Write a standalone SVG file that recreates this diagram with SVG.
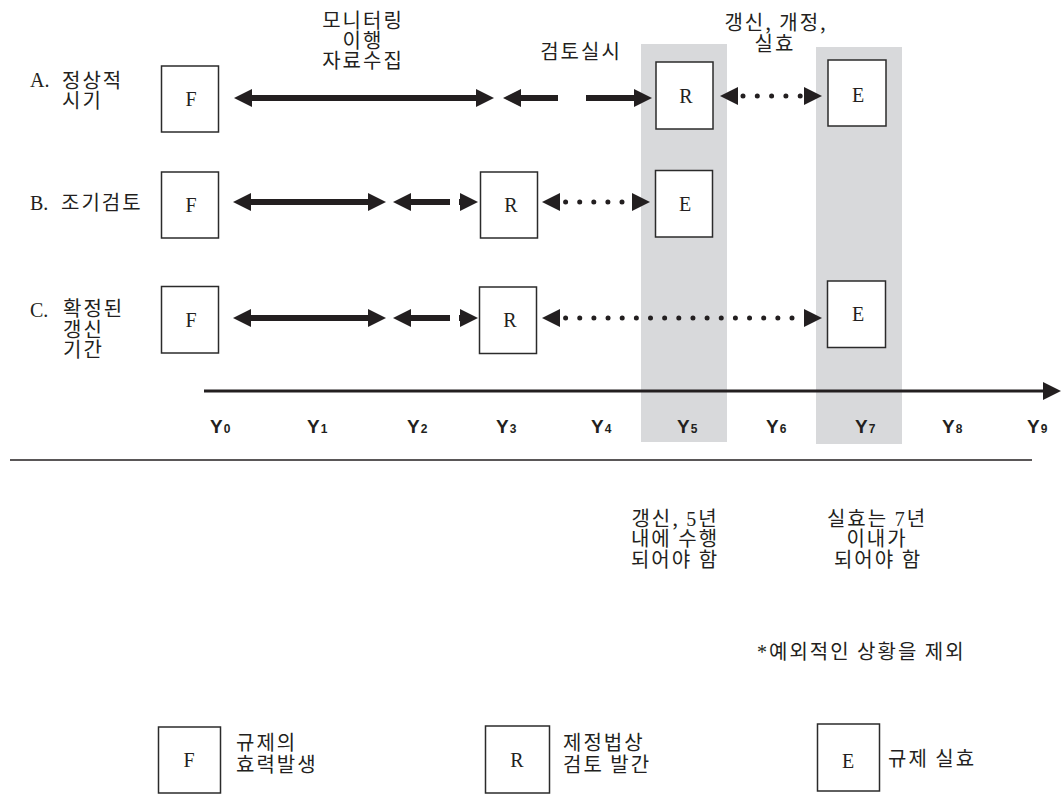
<svg xmlns="http://www.w3.org/2000/svg" width="1061" height="794" viewBox="0 0 1061 794">
<style>
.band{fill:#d8d9db}
.box{fill:#fff;stroke:#2b2b2b;stroke-width:1.5}
.let{font-family:'Liberation Serif',serif;font-size:20px;fill:#231f20;text-anchor:middle}
.kr{font-family:'Noto Sans CJK KR','Liberation Serif',sans-serif;font-size:20px;letter-spacing:2px;fill:#231f20}
.ser{font-family:'Liberation Serif',serif}
.mid{text-anchor:middle}
.shaft{stroke:#231f20;stroke-width:6;fill:none}
.dots{stroke:#231f20;stroke-width:5;stroke-linecap:round;fill:none}
.axis{stroke:#231f20;stroke-width:3;fill:none}
.rule{stroke:#231f20;stroke-width:1.5}
.yl{font-family:'Liberation Sans',sans-serif;font-weight:bold;font-size:19px;fill:#231f20}
.sub{font-size:12px}
</style>
<defs>
<marker id="ah" markerUnits="userSpaceOnUse" markerWidth="18" markerHeight="18" refX="0" refY="9" orient="auto-start-reverse" viewBox="0 0 18 18"><path d="M0,0L18,9L0,18z" fill="#231f20"/></marker>
</defs>
<rect width="1061" height="794" fill="#fff"/>
<g id="bands">
<rect class="band" x="641" y="44" width="86" height="398"/>
<rect class="band" x="816" y="47" width="86" height="397"/>
</g>
<g id="row-labels">
<text class="let" x="30" y="87" style="text-anchor:start">A.</text>
<text class="kr" x="62" y="88">정상적<tspan x="62" dy="19.5">시기</tspan></text>
<text class="let" x="30" y="210" style="text-anchor:start">B.</text>
<text class="kr" x="61" y="210">조기검토</text>
<text class="let" x="30" y="317" style="text-anchor:start">C.</text>
<text class="kr" x="63" y="316">확정된<tspan x="63" dy="20.5">갱신</tspan><tspan x="63" dy="20.5">기간</tspan></text>
</g>
<g id="top-labels">
<text class="kr mid" x="363" y="28">모니터링<tspan x="363" dy="20">이행</tspan><tspan x="363" dy="20">자료수집</tspan></text>
<text class="kr mid" x="581" y="59">검토실시</text>
<text class="kr mid" x="776" y="30">갱신, 개정,<tspan x="775" dy="21">실효</tspan></text>
</g>
<g id="nodeA-F"><rect class="box" x="161.5" y="66" width="57" height="66"/><text class="let" x="191" y="106">F</text></g>
<g id="nodeA-R"><rect class="box" x="656" y="62" width="57" height="67"/><text class="let" x="686" y="103">R</text></g>
<g id="nodeA-E"><rect class="box" x="828" y="60" width="58" height="66"/><text class="let" x="858" y="102">E</text></g>
<g id="nodeB-F"><rect class="box" x="161.5" y="172" width="57" height="66"/><text class="let" x="191" y="212">F</text></g>
<g id="nodeB-R"><rect class="box" x="480.5" y="172" width="57" height="66"/><text class="let" x="511" y="212">R</text></g>
<g id="nodeB-E"><rect class="box" x="655.5" y="170.5" width="57" height="66.5"/><text class="let" x="685" y="211">E</text></g>
<g id="nodeC-F"><rect class="box" x="161.5" y="286.5" width="57" height="66.5"/><text class="let" x="191" y="327">F</text></g>
<g id="nodeC-R"><rect class="box" x="479.5" y="287" width="57" height="66.5"/><text class="let" x="510" y="327">R</text></g>
<g id="nodeC-E"><rect class="box" x="827.5" y="281" width="58" height="66.5"/><text class="let" x="858" y="321">E</text></g>
<g id="connectors">
<line class="shaft" x1="252" y1="98" x2="476" y2="98" marker-start="url(#ah)" marker-end="url(#ah)"/>
<line class="shaft" x1="521" y1="98" x2="558" y2="98" marker-start="url(#ah)"/>
<line class="shaft" x1="586" y1="98" x2="634" y2="98" marker-end="url(#ah)"/>
<line class="dots" x1="738" y1="96" x2="804" y2="96" stroke-dasharray="0 14.3" stroke-dashoffset="9.3" marker-start="url(#ah)" marker-end="url(#ah)"/>
<line class="shaft" x1="251" y1="202" x2="368" y2="202" marker-start="url(#ah)" marker-end="url(#ah)"/>
<line class="shaft" x1="411" y1="202" x2="450" y2="202" marker-start="url(#ah)"/>
<line class="shaft" x1="459" y1="202" x2="460" y2="202" marker-end="url(#ah)"/>
<line class="dots" x1="560" y1="202" x2="632" y2="202" stroke-dasharray="0 14.1" stroke-dashoffset="8.5" marker-start="url(#ah)" marker-end="url(#ah)"/>
<line class="shaft" x1="251" y1="318" x2="368" y2="318" marker-start="url(#ah)" marker-end="url(#ah)"/>
<line class="shaft" x1="411" y1="318" x2="450" y2="318" marker-start="url(#ah)"/>
<line class="shaft" x1="459" y1="318" x2="460" y2="318" marker-end="url(#ah)"/>
<line class="dots" x1="560" y1="318" x2="804" y2="318" stroke-dasharray="0 14.15" stroke-dashoffset="8.55" marker-start="url(#ah)" marker-end="url(#ah)"/>
<line class="axis" x1="204" y1="391" x2="1043" y2="391" marker-end="url(#ah)"/>
<line class="rule" x1="10" y1="460" x2="1032" y2="460"/>
</g>
<g id="axis-labels">
<text class="yl" x="210" y="433">Y<tspan class="sub" dx="1">0</tspan></text>
<text class="yl" x="307" y="433">Y<tspan class="sub" dx="1">1</tspan></text>
<text class="yl" x="407" y="433">Y<tspan class="sub" dx="1">2</tspan></text>
<text class="yl" x="496" y="433">Y<tspan class="sub" dx="1">3</tspan></text>
<text class="yl" x="591" y="433">Y<tspan class="sub" dx="1">4</tspan></text>
<text class="yl" x="677" y="433">Y<tspan class="sub" dx="1">5</tspan></text>
<text class="yl" x="766" y="433">Y<tspan class="sub" dx="1">6</tspan></text>
<text class="yl" x="855" y="433">Y<tspan class="sub" dx="1">7</tspan></text>
<text class="yl" x="942" y="433">Y<tspan class="sub" dx="1">8</tspan></text>
<text class="yl" x="1027" y="433">Y<tspan class="sub" dx="1">9</tspan></text>
</g>
<g id="notes">
<text class="kr mid" x="675" y="526">갱신, <tspan class="ser">5</tspan>년<tspan x="675" dy="20">내에 수행</tspan><tspan x="675" dy="20.5">되어야 함</tspan></text>
<text class="kr mid" x="877" y="526">실효는 <tspan class="ser">7</tspan>년<tspan x="877" dy="20">이내가</tspan><tspan x="878" dy="20.5">되어야 함</tspan></text>
<text class="kr" x="757" y="659"><tspan class="ser">*</tspan>예외적인 상황을 제외</text>
</g>
<g id="legend-F"><rect class="box" x="158.5" y="727" width="62" height="66"/><text class="let" x="189" y="767">F</text><text class="kr" x="236" y="750">규제의<tspan x="236" dy="22">효력발생</tspan></text></g>
<g id="legend-R"><rect class="box" x="485.5" y="726" width="64" height="67"/><text class="let" x="517" y="767">R</text><text class="kr" x="563" y="750">제정법상<tspan x="563" dy="22">검토 발간</tspan></text></g>
<g id="legend-E"><rect class="box" x="817.5" y="724" width="62" height="67"/><text class="let" x="848" y="768">E</text><text class="kr" x="888" y="766">규제 실효</text></g>
</svg>
